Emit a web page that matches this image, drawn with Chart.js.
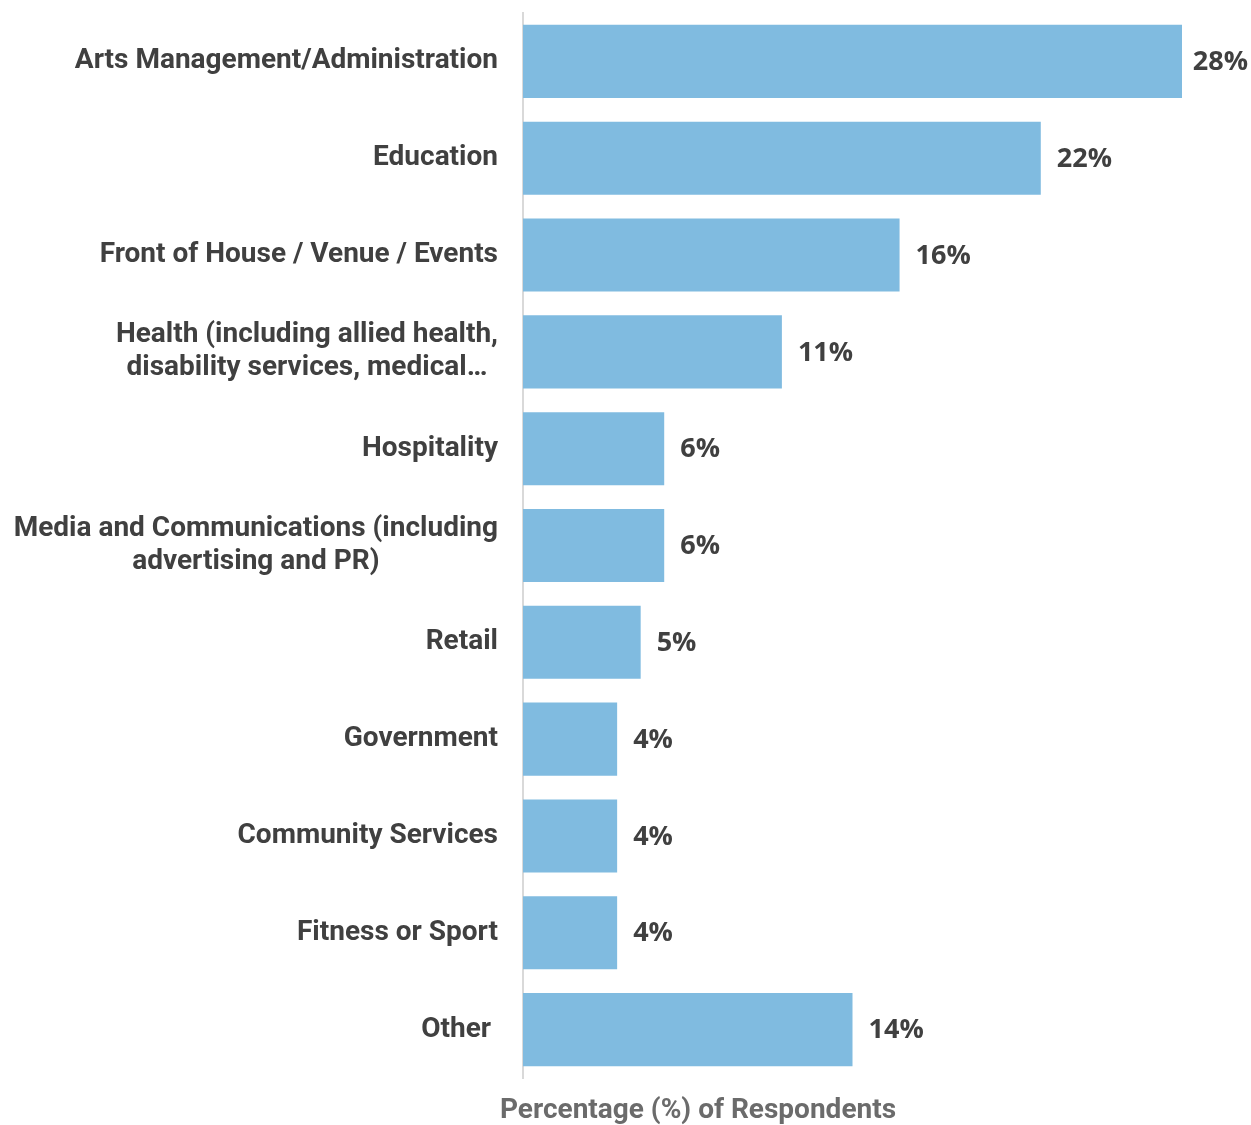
<!DOCTYPE html>
<html>
<head>
<meta charset="utf-8">
<script src="https://cdn.jsdelivr.net/npm/chart.js@4"></script>
<style>
    html, body { margin: 0; padding: 0; background: #fff; }
    .chart-wrap { width: 1251px; height: 1125px; position: relative; }
</style>
</head>
<body>
<div class="chart-wrap"><canvas id="sectorChart"></canvas></div>
<script>
// Sectors respondents work in (other than the arts)
const sectors = [
    'Arts Management/Administration',
    'Education',
    'Front of House / Venue / Events',
    ['Health (including allied health,', 'disability services, medical\u2026'],
    'Hospitality',
    ['Media and Communications (including', 'advertising and PR)'],
    'Retail',
    'Government',
    'Community Services',
    'Fitness or Sport',
    'Other '
];
const percentages = [28, 22, 16, 11, 6, 6, 5, 4, 4, 4, 14];
const axisTitle = 'Percentage (%) of Respondents';

const FONT = 'Roboto, "Open Sans", sans-serif';
const VALUE_FONT = '"Open Sans", Roboto, sans-serif';
const TEXT_DARK = '#404040';
const LABEL_SIZE = 28;
const LABEL_LINE = 33;

// Category labels: right edge against the axis, wrapped lines centred on each other
const categoryLabels = {
    id: 'categoryLabels',
    afterDraw(chart) {
        const { ctx } = chart;
        const yScale = chart.scales.y;
        const right = yScale.right - 25;
        ctx.save();
        ctx.font = `700 ${LABEL_SIZE}px ${FONT}`;
        ctx.fillStyle = TEXT_DARK;
        ctx.textAlign = 'center';
        ctx.textBaseline = 'middle';
        sectors.forEach((label, i) => {
            const lines = Array.isArray(label) ? label : [label];
            const maxW = Math.max(...lines.map(l => ctx.measureText(l).width));
            const cx = right - maxW / 2;
            const cy = yScale.getPixelForTick(i);
            const top = cy - (lines.length - 1) * LABEL_LINE / 2;
            lines.forEach((line, j) => ctx.fillText(line, cx, top + j * LABEL_LINE));
        });
        ctx.restore();
    }
};

// Value labels just past the end of each bar
const valueLabels = {
    id: 'valueLabels',
    afterDatasetsDraw(chart) {
        const { ctx, width } = chart;
        const meta = chart.getDatasetMeta(0);
        ctx.save();
        ctx.font = `700 27px ${VALUE_FONT}`;
        ctx.fillStyle = TEXT_DARK;
        ctx.textBaseline = 'middle';
        meta.data.forEach((bar, i) => {
            const text = `${percentages[i]}%`;
            const w = ctx.measureText(text).width;
            let x = bar.x + 16;
            if (x + w > width - 3) x = width - 3 - w;
            ctx.fillText(text, x, bar.y + 1);
        });
        ctx.restore();
    }
};

// Axis title under the plot
const bottomTitle = {
    id: 'bottomTitle',
    afterDraw(chart) {
        const { ctx } = chart;
        ctx.save();
        ctx.font = `700 28px ${FONT}`;
        ctx.fillStyle = '#6b6b6b';
        ctx.textAlign = 'center';
        ctx.textBaseline = 'middle';
        ctx.fillText(axisTitle, 698, 1111);
        ctx.restore();
    }
};

const ctx = document.getElementById('sectorChart').getContext('2d');
new Chart(ctx, {
    type: 'bar',
    data: {
        labels: sectors,
        datasets: [{
            data: percentages,
            backgroundColor: '#80bbe0',
            borderWidth: 0,
            categoryPercentage: 1,
            barPercentage: 0.755
        }]
    },
    options: {
        indexAxis: 'y',
        responsive: true,
        maintainAspectRatio: false,
        animation: false,
        layout: { padding: { top: 13, right: 69, bottom: 47, left: 0 } },
        plugins: {
            legend: { display: false },
            tooltip: { enabled: false }
        },
        scales: {
            x: {
                display: false,
                min: 0,
                max: 28
            },
            y: {
                afterFit(scale) {
                    scale.width = 523;
                    scale.paddingTop = 0;
                    scale.paddingBottom = 0;
                },
                grid: { display: false, drawTicks: false },
                border: { display: true, color: '#d9d9d9', width: 2 },
                ticks: { display: false }
            }
        }
    },
    plugins: [categoryLabels, valueLabels, bottomTitle]
});
</script>
</body>
</html>
